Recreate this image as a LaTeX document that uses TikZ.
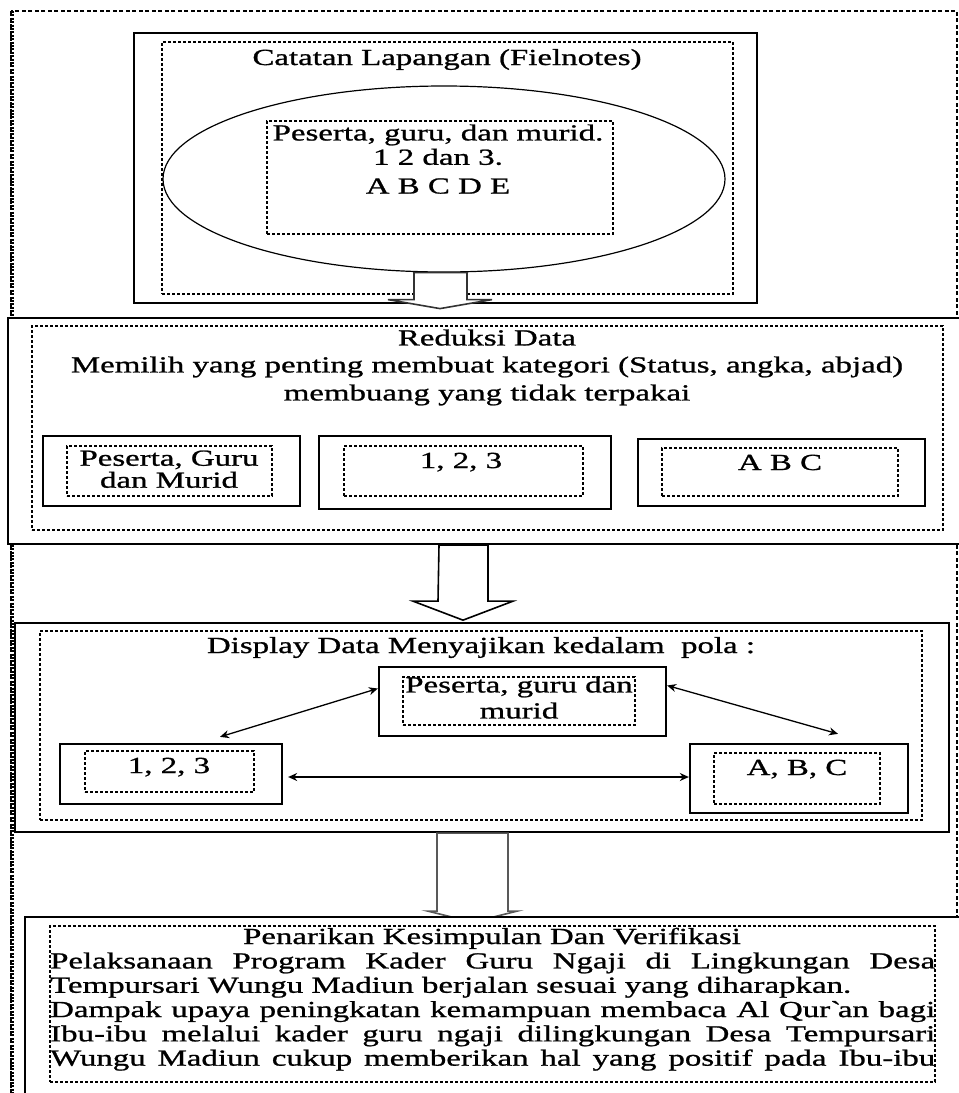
\documentclass[tikz,border=0pt]{standalone}
\usepackage{fontspec}
\setmainfont{Liberation Serif}[FakeStretch=1.43, FakeBold=1]
\usetikzlibrary{shapes.geometric,arrows.meta,calc}

\begin{document}
\begin{tikzpicture}[x=1pt, y=-1pt,
  font=\fontsize{23}{24.3}\selectfont,
  solidbox/.style={draw, line width=2.3pt, fill=white, inner sep=0pt},
  dotbox/.style={draw, line width=1.8pt, dash pattern=on 2.6pt off 2.4pt, inner sep=0pt},
  txt/.style={inner sep=0pt, align=center},
  blockarrow/.style={draw, fill=white, line width=1.6pt},
  dblarrow/.style={{Stealth[length=9pt,width=8pt]}-{Stealth[length=9pt,width=8pt]}, line width=1.3pt}]

% Canvas
\useasboundingbox (0,0) rectangle (959,1093);
\clip (0,0) rectangle (959,1093);

% Outer dashed frame
\draw[line width=1.3pt, dash pattern=on 4pt off 2.5pt] (11,11) rectangle (957,1110);
\draw[line width=4pt, dash pattern=on 2pt off 1.4pt] (12,11) -- (12,1110);

% Catatan lapangan
\node[solidbox, minimum width=623pt, minimum height=270pt] (lap) at (445.5,168) {};
\node[dotbox, minimum width=571pt, minimum height=252pt] (lapin) at (447.5,168) {};
\node[txt, anchor=base] (laptitle) at (447,65) {Catatan Lapangan (Fielnotes)};
\node[ellipse, draw, line width=1.2pt, minimum width=562pt, minimum height=186pt, inner sep=0pt] (ell) at (444,179) {};
\node[dotbox, minimum width=346pt, minimum height=113pt] (ellin) at (440,177.5) {};
\node[txt, anchor=north] (elltext) at (438,124.3) {Peserta, guru, dan murid.\\ 1 2 dan 3.\\[4.5pt] A B C D E};

% Arrow to reduksi
\draw[blockarrow, draw=black!80] ($(ell.south)+(-30,0)$) -- ++(53,0) -- ++(0,27) -- ++(25,0)
  -- ++(-52,9) -- ++(-52,-9) -- ++(26,0) -- cycle;

% Reduksi data
\node[solidbox, minimum width=954pt, minimum height=226pt] (red) at (485,431) {};
\node[dotbox, minimum width=911pt, minimum height=204pt] (redin) at (487.5,428) {};
\node[txt, anchor=north] (redtext) at (487,329.3) {Reduksi Data\\[2.7pt]
  Memilih yang penting membuat kategori (Status, angka, abjad)\\[3.7pt]
  membuang yang tidak terpakai};

\node[solidbox, minimum width=257pt, minimum height=70pt] (sta) at (171.5,471) {};
\node[dotbox, minimum width=205pt, minimum height=50pt] (stain) at (169.5,471) {};
\node[txt, anchor=north] (statext) at (169,450.3) {Peserta, Guru\\[-2.3pt] dan Murid};

\node[solidbox, minimum width=292pt, minimum height=73pt] (ang) at (465,472.5) {};
\node[dotbox, minimum width=239pt, minimum height=50pt] (angin) at (463.5,471) {};
\node[txt, anchor=base] (angtext) at (461,468) {1, 2, 3};

\node[solidbox, minimum width=287pt, minimum height=67pt] (abj) at (781.5,472.5) {};
\node[dotbox, minimum width=236pt, minimum height=48pt] (abjin) at (780,472) {};
\node[txt, anchor=base] (abjtext) at (780,470) {A B C};

% Arrow to display
\draw[blockarrow] ($(red.south)+(-46,0)$) -- ++(49,0) -- ++(0,56) -- ++(25,0)
  -- ++(-50,19) -- ++(-50,-19) -- ++(25,0) -- cycle;

% Display data
\node[solidbox, minimum width=934pt, minimum height=209pt] (dis) at (482,727.5) {};
\node[dotbox, minimum width=882pt, minimum height=189pt] (disin) at (481,725.5) {};
\node[txt, anchor=base] (distitle) at (481,653) {Display Data Menyajikan kedalam\ \ pola :};

\node[solidbox, minimum width=287pt, minimum height=69pt] (pes) at (522.5,701.5) {};
\node[dotbox, minimum width=232pt, minimum height=48pt] (pesin) at (519,701) {};
\node[txt, anchor=north] (pestext) at (519,676.3) {Peserta, guru dan\\[1.7pt] murid};

\node[solidbox, minimum width=222pt, minimum height=60pt] (num) at (171,774) {};
\node[dotbox, minimum width=169pt, minimum height=41pt] (numin) at (169.5,771.5) {};
\node[txt, anchor=base] (numtext) at (169,773) {1, 2, 3};

\node[solidbox, minimum width=218pt, minimum height=69pt] (hur) at (799,778.5) {};
\node[dotbox, minimum width=166pt, minimum height=51pt] (hurin) at (797,778.5) {};
\node[txt, anchor=base] (hurtext) at (797,775) {A, B, C};

\draw[dblarrow] ($(pes.west)+(0,-13)$) -- ($(num.north)+(49,-6)$);
\draw[dblarrow] ($(pes.east)+(0,-16)$) -- ($(hur.north)+(39,-9)$);
\draw[dblarrow] ($(num.east)+(5,3)$) -- ($(hur.west)+(0,-1.5)$);

% Arrow to kesimpulan
\draw[blockarrow, draw=black!65] ($(dis.south)+(-45,0)$) -- ++(71,0) -- ++(0,78) -- ++(9,0)
  -- ++(-44.5,11) -- ++(-44.5,-11) -- ++(9,0) -- cycle;

% Kesimpulan dan verifikasi
\node[solidbox, minimum width=940pt, minimum height=190pt] (kes) at (495,1012) {};
\node[dotbox, minimum width=885pt, minimum height=156pt] (kesin) at (492.5,1004) {};
\node[txt, anchor=base] (kestitle) at (492,944) {Penarikan Kesimpulan Dan Verifikasi};
\node[inner sep=0pt, align=left, anchor=north west] (kestext) at (50,952.3) {%
  \makebox[885pt][s]{Pelaksanaan Program Kader Guru Ngaji di Lingkungan Desa}\\
  Tempursari Wungu Madiun berjalan sesuai yang diharapkan.\\
  \makebox[885pt][s]{Dampak upaya peningkatan kemampuan membaca Al Qur\textasciigrave an bagi}\\
  \makebox[885pt][s]{Ibu-ibu melalui kader guru ngaji dilingkungan Desa Tempursari}\\
  \makebox[885pt][s]{Wungu Madiun cukup memberikan hal yang positif pada Ibu-ibu}};

\end{tikzpicture}
\end{document}
